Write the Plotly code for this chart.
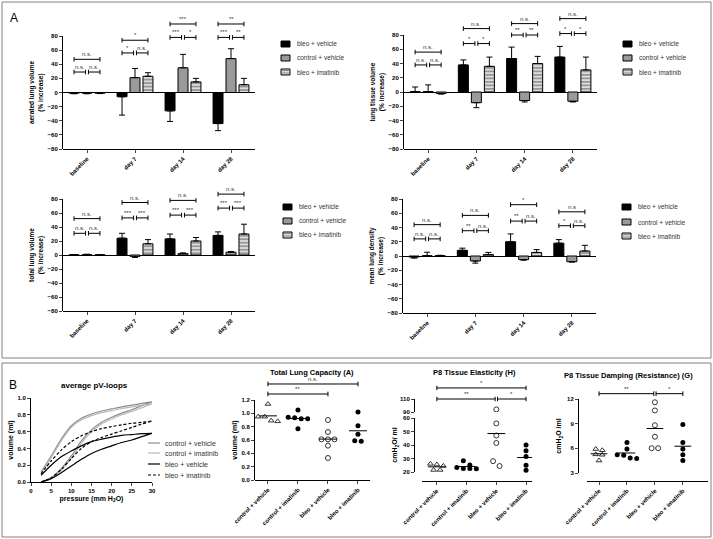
import numpy as np
import plotly.graph_objects as go

W, H = 713, 539
FONT = "Liberation Sans, Arial, sans-serif"

# ---------------- data: panel A (mean % increase and one-sided SEM) ----------------
timepoints = ["baseline", "day 7", "day 14", "day 28"]
groups_A = ["bleo + vehicle", "control + vehicle", "bleo + imatinib"]

aerated_bleo_vehicle = [-1, -6, -26, -44]
aerated_control_vehicle = [-1, 21, 35, 48]
aerated_bleo_imatinib = [-1, 23, 15, 11]
aerated_bleo_vehicle_err = [0.8, 26, 15, 10]
aerated_control_vehicle_err = [0.8, 13, 19, 14]
aerated_bleo_imatinib_err = [0.5, 5, 5, 9]

tissue_bleo_vehicle = [0.5, 38, 47, 49]
tissue_control_vehicle = [0.5, -15, -12, -13]
tissue_bleo_imatinib = [-2, 36, 40, 31]
tissue_bleo_vehicle_err = [6.5, 7, 16, 15]
tissue_control_vehicle_err = [9.5, 7, 2, 1]
tissue_bleo_imatinib_err = [1, 13, 10, 18]

total_bleo_vehicle = [0.3, 24, 23, 28]
total_control_vehicle = [0.3, -2, 2, 4]
total_bleo_imatinib = [0.3, 16, 20, 30]
total_bleo_vehicle_err = [0.3, 7, 7, 5]
total_control_vehicle_err = [0.8, 1.5, 1, 1]
total_bleo_imatinib_err = [0.3, 6, 5, 14]

density_bleo_vehicle = [-1.5, 8, 20, 18]
density_control_vehicle = [0.3, -7, -5, -8]
density_bleo_imatinib = [0.5, 2, 5, 7]
density_bleo_vehicle_err = [1.5, 3, 11, 5]
density_control_vehicle_err = [5, 3, 1, 0.5]
density_bleo_imatinib_err = [0.5, 3, 4, 8]

# significance brackets: (inner level, outer level) and labels (inner1, inner2, outer)
aerated_sig_levels = [(29, 47), (56, 74), (78, 97), (78, 97)]
aerated_sig_labels = [("n.s.", "n.s.", "n.s."), ("*", "n.s.", "*"), ("***", "*", "***"), ("***", "**", "**")]
tissue_sig_levels = [(38, 56), (68, 89), (80, 96), (82, 103)]
tissue_sig_labels = [("n.s.", "n.s.", "n.s."), ("*", "*", "n.s."), ("**", "**", "n.s."), ("*", "*", "n.s.")]
total_sig_levels = [(31, 52), (53, 75), (57, 78), (67, 87)]
total_sig_labels = [("n.s.", "n.s.", "n.s."), ("***", "***", "n.s."), ("***", "***", "n.s."), ("***", "***", "n.s.")]
density_sig_levels = [(24, 44), (35.5, 57), (49, 72), (42.5, 62)]
density_sig_labels = [("n.s.", "n.s.", "n.s."), ("**", "n.s.", "n.s."), ("**", "n.s.", "*"), ("*", "n.s.", "n.s")]

# ---------------- data: panel B ----------------
pv_groups = ["control + vehicle", "control + imatinib", "bleo + vehicle", "bleo + imatinib"]
pv_pressure = [2.5, 5, 7.5, 10, 12.5, 15, 17.5, 20, 22.5, 25, 27.5, 30]
pv_control_vehicle_infl = [0.00, 0.05, 0.16, 0.31, 0.49, 0.62, 0.71, 0.77, 0.82, 0.86, 0.91, 0.955]
pv_control_vehicle_defl = [0.12, 0.31, 0.51, 0.67, 0.76, 0.81, 0.845, 0.87, 0.895, 0.915, 0.935, 0.955]
pv_control_imatinib_infl = [0.00, 0.04, 0.14, 0.28, 0.46, 0.60, 0.69, 0.75, 0.80, 0.84, 0.885, 0.93]
pv_control_imatinib_defl = [0.10, 0.29, 0.49, 0.65, 0.74, 0.79, 0.825, 0.85, 0.875, 0.895, 0.915, 0.93]
pv_bleo_vehicle_infl = [0.00, 0.04, 0.11, 0.19, 0.27, 0.34, 0.39, 0.43, 0.47, 0.50, 0.54, 0.58]
pv_bleo_vehicle_defl = [0.08, 0.20, 0.30, 0.37, 0.43, 0.48, 0.51, 0.535, 0.555, 0.565, 0.575, 0.58]
pv_bleo_imatinib_infl = [0.00, 0.05, 0.15, 0.28, 0.40, 0.48, 0.53, 0.57, 0.61, 0.65, 0.69, 0.725]
pv_bleo_imatinib_defl = [0.10, 0.25, 0.38, 0.48, 0.55, 0.60, 0.635, 0.66, 0.68, 0.70, 0.71, 0.725]

groups_B = ["control + vehicle", "control + imatinib", "bleo + vehicle", "bleo + imatinib"]
tlc_control_vehicle = [1.14, 0.95, 0.95, 0.89, 0.88]
tlc_control_imatinib = [1.05, 0.94, 0.935, 0.92, 0.92, 0.77]
tlc_bleo_vehicle = [0.90, 0.72, 0.61, 0.61, 0.61, 0.515, 0.33]
tlc_bleo_imatinib = [1.02, 0.815, 0.685, 0.59, 0.58]

elast_control_vehicle = [26, 25.5, 24.5, 21.5, 21.5]
elast_control_imatinib = [28.4, 25.2, 23.3, 22.6, 22.3, 22.5]
elast_bleo_vehicle = [94, 56, 47, 41.5, 28, 24.4]
elast_bleo_imatinib = [40, 35.8, 31.4, 25, 21.3]

damp_control_vehicle = [5.9, 5.75, 5.25, 5.2, 4.5]
damp_control_imatinib = [6.7, 5.9, 5.2, 5.15, 4.8, 4.75]
damp_bleo_vehicle = [11.6, 10.6, 8.8, 7.4, 6.0, 6.0]
damp_bleo_imatinib = [8.9, 6.7, 5.9, 5.2, 4.5]

# ---------------- helpers ----------------
def px(p):
    return p / W

def py(p):
    return 1 - p / H

def ydom(top, bottom):
    return [1 - bottom / H, 1 - top / H]

shapes = []
annotations = []
layout = {}

def paper_line(x0, y0, x1, y1, color="black", width=1, dash=None):
    ln = dict(color=color, width=width)
    if dash:
        ln["dash"] = dash
    shapes.append(dict(type="line", xref="paper", yref="paper", x0=px(x0), y0=py(y0),
                       x1=px(x1), y1=py(y1), line=ln))

def paper_text(x, y, text, size=7, bold=False, xanchor="center", color="black"):
    annotations.append(dict(xref="paper", yref="paper", x=px(x), y=py(y), text=text,
                            showarrow=False, xanchor=xanchor, yanchor="middle",
                            font=dict(family=FONT, size=size, color=color,
                                      weight="bold" if bold else "normal")))

def bracket(xr, yr, xa, xb, level, cap, label):
    ln = dict(color="black", width=1)
    shapes.append(dict(type="line", xref=xr, yref=yr, x0=xa, x1=xb, y0=level, y1=level, line=ln))
    shapes.append(dict(type="line", xref=xr, yref=yr, x0=xa, x1=xa, y0=level - cap, y1=level + cap, line=ln))
    shapes.append(dict(type="line", xref=xr, yref=yr, x0=xb, x1=xb, y0=level - cap, y1=level + cap, line=ln))
    annotations.append(dict(xref=xr, yref=yr, x=(xa + xb) / 2, y=level, text=label, showarrow=False,
                            yanchor="bottom", xanchor="center", yshift=0,
                            font=dict(family=FONT, size=6, color="#333333")))

tick6 = dict(family=FONT, size=6, color="black", weight="bold")
title_font = dict(family=FONT, size=6.5, color="black", weight="bold")

fig = go.Figure()

# ---------------- panel A ----------------
bar_styles = {
    "bleo + vehicle": dict(color="black", line=dict(color="black", width=1)),
    "control + vehicle": dict(color="#9a9a9a", line=dict(color="black", width=1)),
    "bleo + imatinib": dict(color="#dcdcdc", line=dict(color="black", width=1),
                            pattern=dict(shape="-", fgcolor="#7a7a7a", bgcolor="#dcdcdc",
                                         size=3.5, solidity=0.35)),
}

A_specs = [
    dict(title="aerated lung volume",
         vals=[aerated_bleo_vehicle, aerated_control_vehicle, aerated_bleo_imatinib],
         errs=[aerated_bleo_vehicle_err, aerated_control_vehicle_err, aerated_bleo_imatinib_err],
         levels=aerated_sig_levels, labels=aerated_sig_labels,
         xpx=(63, 255), bottom=149, top80=36, leg=(281, [44, 58, 72])),
    dict(title="lung tissue volume",
         vals=[tissue_bleo_vehicle, tissue_control_vehicle, tissue_bleo_imatinib],
         errs=[tissue_bleo_vehicle_err, tissue_control_vehicle_err, tissue_bleo_imatinib_err],
         levels=tissue_sig_levels, labels=tissue_sig_labels,
         xpx=(404, 597), bottom=149, top80=35, leg=(623, [44, 58, 72])),
    dict(title="total lung volume",
         vals=[total_bleo_vehicle, total_control_vehicle, total_bleo_imatinib],
         errs=[total_bleo_vehicle_err, total_control_vehicle_err, total_bleo_imatinib_err],
         levels=total_sig_levels, labels=total_sig_labels,
         xpx=(63, 255), bottom=311, top80=199, leg=(283, [207, 221, 235])),
    dict(title="mean lung density",
         vals=[density_bleo_vehicle, density_control_vehicle, density_bleo_imatinib],
         errs=[density_bleo_vehicle_err, density_control_vehicle_err, density_bleo_imatinib_err],
         levels=density_sig_levels, labels=density_sig_labels,
         xpx=(403, 596), bottom=313, top80=199, leg=(622, [207, 222, 236])),
]

slot = (1 - 0.19) / 3
positions = list(range(len(timepoints)))
for i, s in enumerate(A_specs):
    n = i + 1
    xa, ya, yd = f"x{n}", f"y{n}", f"y{n + 4}"
    scale = (s["bottom"] - s["top80"]) / 160.0
    top = s["bottom"] - 190 * scale
    for g, vals, errs in zip(groups_A, s["vals"], s["errs"]):
        up = [e if v >= 0 else 0 for v, e in zip(vals, errs)]
        dn = [e if v < 0 else 0 for v, e in zip(vals, errs)]
        fig.add_trace(go.Bar(x=positions, y=vals, name=g, xaxis=xa, yaxis=ya, showlegend=False,
                             marker=bar_styles[g],
                             error_y=dict(type="data", symmetric=False, array=up, arrayminus=dn,
                                          color="black", thickness=1, width=3)))
    fig.add_trace(go.Scatter(x=[], y=[], xaxis=xa, yaxis=yd, showlegend=False))
    layout[f"xaxis{n}"] = dict(domain=[px(s["xpx"][0]), px(s["xpx"][1])], anchor=ya,
                               range=[-0.5, 3.5], tickvals=positions, ticktext=timepoints,
                               tickangle=-45, ticks="outside", ticklen=3, showline=True,
                               linecolor="black", linewidth=1, showgrid=False, zeroline=False,
                               tickfont=tick6, automargin=False)
    layout[f"yaxis{n}"] = dict(domain=ydom(top, s["bottom"]), anchor=xa, range=[-80, 110],
                               showline=False, showticklabels=False, ticks="", showgrid=False,
                               zeroline=True, zerolinecolor="black", zerolinewidth=1, automargin=False)
    layout[f"yaxis{n + 4}"] = dict(domain=ydom(s["top80"], s["bottom"]), anchor=xa, range=[-80, 80],
                                   tickvals=list(range(-80, 81, 20)), ticks="outside", ticklen=3,
                                   showline=True, linecolor="black", linewidth=1, showgrid=False,
                                   zeroline=False, tickfont=tick6, automargin=False,
                                   title=dict(text=s["title"] + "<br>(% increase)", font=title_font,
                                              standoff=3))
    cap = 2.3 / scale
    for c, (lv, lab) in enumerate(zip(s["levels"], s["labels"])):
        bracket(xa, ya, c - slot, c - 0.03, lv[0], cap, lab[0])
        bracket(xa, ya, c + 0.03, c + slot, lv[0], cap, lab[1])
        bracket(xa, ya, c - slot, c + slot, lv[1], cap, lab[2])
    # legend
    lx, lys = s["leg"]
    for g, yy in zip(groups_A, lys):
        st = bar_styles[g]
        shapes.append(dict(type="rect", xref="paper", yref="paper", x0=px(lx), x1=px(lx + 9),
                           y0=py(yy + 3), y1=py(yy - 3), fillcolor=st["color"],
                           line=dict(color="black", width=1)))
        if "pattern" in st:
            for dy in (-1.5, 1.0):
                paper_line(lx + 0.5, yy + dy, lx + 8.5, yy + dy, color="#7a7a7a", width=0.8)
        paper_text(lx + 14, yy, g, size=6.5, xanchor="left", color="#333333")

# ---------------- panel B: pV loops ----------------
pv_infl = [pv_control_vehicle_infl, pv_control_imatinib_infl, pv_bleo_vehicle_infl, pv_bleo_imatinib_infl]
pv_defl = [pv_control_vehicle_defl, pv_control_imatinib_defl, pv_bleo_vehicle_defl, pv_bleo_imatinib_defl]
pv_lines = [dict(color="#8c8c8c", width=1.2), dict(color="#b8b8b8", width=1.2),
            dict(color="black", width=1.2), dict(color="black", width=1.2, dash="3px,2px")]
for g, inf, dfl, ln in zip(pv_groups, pv_infl, pv_defl, pv_lines):
    fig.add_trace(go.Scatter(x=pv_pressure + pv_pressure[::-1], y=inf + dfl[::-1], mode="lines",
                             line=dict(shape="spline", smoothing=0.8, **ln), name=g,
                             xaxis="x5", yaxis="y9", showlegend=False))
layout["xaxis5"] = dict(domain=[px(31), px(152)], anchor="y9", range=[0, 30], tickvals=list(range(0, 31, 5)),
                        ticks="outside", ticklen=3, showline=True, linecolor="black", showgrid=False,
                        zeroline=False, tickfont=tick6, automargin=False,
                        title=dict(text="pressure (mm H<sub>2</sub>O)", font=dict(family=FONT, size=7, weight="bold"),
                                   standoff=2))
layout["yaxis9"] = dict(domain=ydom(398, 482), anchor="x5", range=[0, 1.0], tickvals=[0, 0.2, 0.4, 0.6, 0.8, 1.0],
                        tickformat=".1f", ticks="outside", ticklen=3, showline=True, linecolor="black",
                        showgrid=False, zeroline=False, tickfont=tick6, automargin=False,
                        title=dict(text="volume (ml)", font=dict(family=FONT, size=7, weight="bold"), standoff=3))
paper_text(94, 385, "average pV-loops", size=8, bold=True)
for g, ln, yy in zip(pv_groups, pv_lines, [443, 453, 464, 475]):
    paper_line(148, yy, 160, yy, color=ln["color"], width=1.2, dash=ln.get("dash"))
    paper_text(163, yy, g, size=7, xanchor="left", color="#333333")

# ---------------- panel B: scatter plots ----------------
def swarm(vals, ppu, xppu, d=6.5):
    order = np.argsort(vals)[::-1]
    offs = np.zeros(len(vals))
    clusters, cur = [], [order[0]]
    for k in order[1:]:
        if abs(vals[cur[0]] - vals[k]) * ppu < d * 0.75:
            cur.append(k)
        else:
            clusters.append(cur)
            cur = [k]
    clusters.append(cur)
    for cl in clusters:
        m = len(cl)
        for j, k in enumerate(cl):
            offs[k] = (j - (m - 1) / 2) * d / xppu
    return offs

markers_B = [dict(symbol="triangle-up-open", size=5, color="#333333", line=dict(width=1)),
             dict(symbol="circle", size=5, color="black"),
             dict(symbol="circle-open", size=5, color="#333333", line=dict(width=1)),
             dict(symbol="circle", size=5, color="black")]

def scatter_panel(series, xa, ya, ppu, xppu, split=None, ya_hi=None):
    for i, (g, vals, mk) in enumerate(zip(groups_B, series, markers_B)):
        offs = swarm(vals, ppu, xppu)
        xs = [i + o for o in offs]
        if split is None:
            fig.add_trace(go.Scatter(x=xs, y=vals, mode="markers", marker=mk, name=g,
                                     xaxis=xa, yaxis=ya, showlegend=False))
        else:
            lo = [(x, v) for x, v in zip(xs, vals) if v < split]
            hi = [(x, v) for x, v in zip(xs, vals) if v >= split]
            for part, axis in ((lo, ya), (hi, ya_hi)):
                if part:
                    fig.add_trace(go.Scatter(x=[p[0] for p in part], y=[p[1] for p in part], mode="markers",
                                             marker=mk, name=g, xaxis=xa, yaxis=axis, showlegend=False))
        m = float(np.mean(vals))
        fig.add_trace(go.Scatter(x=[i - 0.3, i + 0.3], y=[m, m], mode="lines",
                                 line=dict(color="black", width=1), xaxis=xa, yaxis=ya, showlegend=False))

ttl7 = dict(family=FONT, size=7, weight="bold")
xcat = dict(tickvals=[0, 1, 2, 3], ticktext=groups_B, tickangle=-45, ticks="outside", ticklen=3,
            showline=True, linecolor="black", showgrid=False, zeroline=False, tickfont=tick6,
            automargin=False)
hidden = dict(showline=False, showticklabels=False, ticks="", showgrid=False, zeroline=False,
              automargin=False)

# Total lung capacity
scatter_panel([tlc_control_vehicle, tlc_control_imatinib, tlc_bleo_vehicle, tlc_bleo_imatinib],
              "x6", "y10", 80 / 1.2, 30)
fig.add_trace(go.Scatter(x=[], y=[], xaxis="x6", yaxis="y11", showlegend=False))
layout["xaxis6"] = dict(domain=[px(255), px(370)], anchor="y10", range=[-0.43, 3.4], **xcat)
layout["yaxis10"] = dict(domain=ydom(480 - 1.55 * 80 / 1.2, 480), anchor="x6", range=[0, 1.55], **hidden)
layout["yaxis11"] = dict(domain=ydom(400, 480), anchor="x6", range=[0, 1.2], tickvals=[0, 0.2, 0.4, 0.6, 0.8, 1.0, 1.2],
                         tickformat=".1f", ticks="outside", ticklen=3, showline=True, linecolor="black",
                         showgrid=False, zeroline=False, tickfont=tick6, automargin=False,
                         title=dict(text="volume (ml)", font=ttl7, standoff=3))
bracket("x6", "y10", 0, 2, 1.29, 0.035, "**")
bracket("x6", "y10", 0, 3, 1.44, 0.035, "n.s.")
paper_text(312, 372, "Total Lung Capacity (A)", size=7.5, bold=True)

# Tissue elasticity (broken axis)
scatter_panel([elast_control_vehicle, elast_control_imatinib, elast_bleo_vehicle, elast_bleo_imatinib],
              "x7", "y12", 54 / 40, 29.7, split=75, ya_hi="y13")
fig.add_trace(go.Scatter(x=[], y=[], xaxis="x7", yaxis="y14", showlegend=False))
fig.add_trace(go.Scatter(x=[], y=[], xaxis="x7", yaxis="y15", showlegend=False))
layout["xaxis7"] = dict(domain=[px(422), px(532)], anchor="y12", range=[-0.5, 3.2], **xcat)
layout["yaxis12"] = dict(domain=ydom(472 - 42 * 1.35, 481), anchor="x7", range=[13.3, 62], **hidden)
layout["yaxis13"] = dict(domain=ydom(412 - 50 * 0.65, 412), anchor="x7", range=[90, 140], **hidden)
layout["yaxis14"] = dict(domain=ydom(418, 472), anchor="free", position=px(414), range=[20, 60],
                         tickvals=[20, 30, 40, 50, 60], ticks="outside", ticklen=3, showline=True,
                         linecolor="black", showgrid=False, zeroline=False, tickfont=tick6, automargin=False,
                         title=dict(text="cmH<sub>2</sub>O/ ml", font=ttl7, standoff=3))
layout["yaxis15"] = dict(domain=ydom(399, 412), anchor="free", position=px(414), range=[90, 110],
                         tickvals=[90, 110], ticks="outside", ticklen=3, showline=True,
                         linecolor="black", showgrid=False, zeroline=False, tickfont=tick6, automargin=False)
bracket("x7", "y13", 0, 1.96, 110, 3.4, "**")
bracket("x7", "y13", 2.04, 3, 110, 3.4, "*")
bracket("x7", "y13", 0, 3, 127, 3.4, "*")
paper_text(475, 372, "P8 Tissue Elasticity (H)", size=7.5, bold=True)

# Tissue damping
scatter_panel([damp_control_vehicle, damp_control_imatinib, damp_bleo_vehicle, damp_bleo_imatinib],
              "x8", "y16", 8.2, 28)
fig.add_trace(go.Scatter(x=[], y=[], xaxis="x8", yaxis="y17", showlegend=False))
layout["xaxis8"] = dict(domain=[px(587), px(708)], anchor="y16", range=[-0.43, 3.9], **xcat)
layout["yaxis16"] = dict(domain=ydom(481 - 11.5 * 8.2, 481), anchor="x8", range=[2.0, 13.5], **hidden)
layout["yaxis17"] = dict(domain=ydom(399, 473), anchor="free", position=px(578), range=[3, 12],
                         tickvals=[3, 6, 9, 12], ticks="outside", ticklen=3, showline=True,
                         linecolor="black", showgrid=False, zeroline=False, tickfont=tick6, automargin=False,
                         title=dict(text="cmH<sub>2</sub>O /ml", font=ttl7, standoff=3))
bracket("x8", "y16", 0, 1.96, 12.65, 0.28, "**")
bracket("x8", "y16", 2.04, 3, 12.65, 0.28, "*")
paper_text(628, 375, "P8 Tissue Damping (Resistance) (G)", size=7.5, bold=True)

# ---------------- frames and panel letters ----------------
for (x0, y0, x1, y1) in [(2, 2, 711, 358), (2, 363, 711, 537)]:
    shapes.append(dict(type="rect", xref="paper", yref="paper", x0=px(x0), x1=px(x1), y0=py(y1), y1=py(y0),
                       line=dict(color="#808080", width=1)))
paper_text(14, 18, "A", size=12)
paper_text(13, 385, "B", size=12)

fig.update_layout(template="none", width=W, height=H, margin=dict(l=0, r=0, t=0, b=0, pad=0),
                  paper_bgcolor="white", plot_bgcolor="rgba(0,0,0,0)", showlegend=False,
                  barmode="group", bargap=0.19, bargroupgap=0.23,
                  font=dict(family=FONT, color="black"),
                  shapes=shapes, annotations=annotations, **layout)
fig.write_html("out.html", config={"displayModeBar": False},
               post_script="document.body.style.margin='0px';document.body.style.overflow='hidden';")
